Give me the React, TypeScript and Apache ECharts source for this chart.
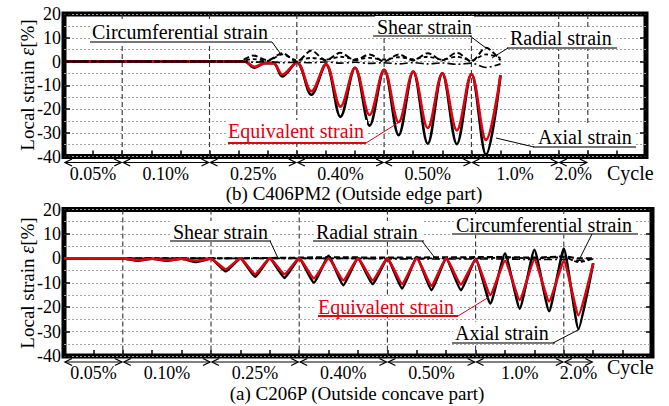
import React, { useEffect, useRef } from 'react';
import * as echarts from 'echarts';

const FONT = '"Liberation Serif", "Times New Roman", serif';
const RED = '#e3000f';

// Loading protocol (cycle regions)
const regionStarts = [0, 2, 5, 8, 11, 14, 17];
const regionEnds = [2, 5, 8, 11, 14, 17, 18];
const regionLabels = ['0.05%', '0.10%', '0.25%', '0.40%', '0.50%', '1.0%', '2.0%'];
const topDividers = [2, 5, 8, 11, 14, 17, 18];
const bottomDividers = [2, 5, 8, 11, 14, 17];

// (b) C406PM2 – axial / equivalent
const topX = [0, 6.2, 6.55, 6.9, 7.2, 7.5, 8, 8.5, 9, 9.5, 10, 10.5, 11, 11.5, 12, 12.5, 13, 13.5, 14, 14.5, 15];
const topAxial = [0, 0, -2.6, -0.7, -0.7, -6.3, -0.4, -14, -1.2, -23.3, -2.6, -27, -3.5, -31, -4.2, -34.6, -5, -34.8, -5.3, -39.2, -5.8];
const topEquivalent = [0, 0, -2.2, -0.7, -0.7, -5.5, -0.4, -12.5, -1.2, -19, -2.6, -22.5, -3.5, -25.5, -4.2, -28, -5, -29, -5.3, -33, -5.8];

// (b) C406PM2 – other components
const topX2 = [0, 6, 6.5, 7, 7.5, 8, 8.5, 9, 9.5, 10, 10.5, 11, 11.5, 12, 12.5, 13, 13.5, 14, 14.5, 15];
const topShear = [0, 0, 2.5, 0.5, 3.5, 0, 4.6, 0.5, 3.7, 0.5, 3, 0, 3, 0.5, 3.5, 0.5, 3.7, 0, 5.8, 0.5];
const topRadial = [0, 0, -0.3, 0, -0.5, -0.3, -0.5, -0.2, -0.7, -0.3, -0.8, -0.5, -1, -0.5, -1, -0.6, -1.2, -0.7, -2.5, -1];
const topCircumferential = [0, 0, 1, 0.3, 3, 0.5, 1.5, 0.8, 2, 1, 1.5, 0.8, 1.8, 1, 2, 0.8, 2, 0.5, 3, 1.5];

// (a) C206P – axial / equivalent
const bottomX = [0, 2, 2.5, 3, 3.5, 4, 4.5, 5, 5.5, 6, 6.5, 7, 7.5, 8, 8.5, 9, 9.5, 10, 10.5, 11, 11.5, 12, 12.5, 13, 13.5, 14, 14.5, 15, 15.5, 16, 16.5, 17, 17.5, 18];
const bottomAxial = [0, 0, -1, -0.2, -1, -0.2, -1.5, -0.2, -5.3, 0, -7.5, 0, -8, 0, -10, 1, -11, 0, -10.5, 0, -12.3, 0.5, -13, 0, -13, -0.3, -18.5, 2, -20.6, 3.5, -21.7, 4, -29, -2];
const bottomEquivalent = [0, 0, -0.7, -0.2, -0.7, -0.2, -1, -0.2, -4.5, 0, -6.5, 0, -6.5, 0, -8.2, 0, -9, 0, -9, 0, -10.5, 0, -11.2, 0, -10.7, -0.5, -15, -1, -17.1, -0.5, -17.6, -1, -23.3, -2];

// (a) C206P – other components
const bottomX2 = [0, 2, 5, 8, 9, 11, 14, 15, 16, 17, 17.5, 18];
const bottomShear = [0, 0, 0, 0.3, 0.5, 0.3, 0.5, 0.5, 0.3, 0.8, 0, 0];
const bottomRadial = [0, 0, 0, 0, 0, -0.2, -0.3, -0.3, -0.5, -0.5, -0.8, -0.3];
const bottomCircumferential = [0, 0, 0, 0, 0, 0, 0, 0.3, 0, 0.5, -1.6, -0.2];

const pairs = (xs: number[], ys: number[]) => xs.map((x, i) => [x, ys[i]]);

function lineSeries(idx: number, xs: number[], ys: number[], color: string, width: number, type: any, smooth: number | boolean) {
  return {
    type: 'line',
    xAxisIndex: idx,
    yAxisIndex: idx,
    data: pairs(xs, ys),
    showSymbol: false,
    smooth,
    silent: true,
    lineStyle: { color, width, type },
  };
}

function dividerSeries(idx: number, xs: number[]) {
  return {
    type: 'custom',
    xAxisIndex: idx,
    yAxisIndex: idx,
    silent: true,
    z: 1,
    data: xs.map((v) => [v, 0]),
    renderItem: (_p: any, api: any) => {
      const a = api.coord([api.value(0), 20]);
      const b = api.coord([api.value(0), -40]);
      return {
        type: 'line',
        shape: { x1: a[0], y1: a[1], x2: b[0], y2: b[1] },
        style: { stroke: '#333', lineWidth: 1.1, lineDash: [5, 3] },
      };
    },
  };
}

function regionSeries(idx: number) {
  return {
    type: 'custom',
    xAxisIndex: idx,
    yAxisIndex: idx,
    silent: true,
    clip: false,
    z: 5,
    data: regionStarts.map((s, k) => [s, regionEnds[k], k]),
    renderItem: (_p: any, api: any) => {
      const k = api.value(2);
      const a = api.coord([api.value(0), -40]);
      const b = api.coord([api.value(1), -40]);
      const y = a[1] + 6;
      const x1 = a[0] + 1;
      const x2 = b[0] - 1;
      const hs = { stroke: '#000', fill: 'none', lineWidth: 1.3 };
      return {
        type: 'group',
        children: [
          { type: 'line', shape: { x1, y1: y, x2, y2: y }, style: { stroke: '#000', lineWidth: 1 } },
          { type: 'polyline', shape: { points: [[x1 + 7, y - 3.5], [x1, y], [x1 + 7, y + 3.5]] }, style: hs },
          { type: 'polyline', shape: { points: [[x2 - 7, y - 3.5], [x2, y], [x2 - 7, y + 3.5]] }, style: hs },
          {
            type: 'text',
            x: (a[0] + b[0]) / 2,
            y: y + 11,
            style: { text: regionLabels[k], fill: '#000', font: `18px ${FONT}`, textAlign: 'center', textVerticalAlign: 'middle' },
          },
        ],
      };
    },
  };
}

function annotation(text: string, left: number, cy: number, w: number, color: string, ul: [number, number, number], leader: [number, number, number, number]) {
  const ulColor = color === '#000' ? '#777' : color;
  return [
    { type: 'rect', z: 100, shape: { x: left - 2, y: cy - 11, width: w + 4, height: 21 }, style: { fill: '#fff' } },
    {
      type: 'text', z: 101, x: left, y: cy,
      style: { text, fill: color, font: `20px ${FONT}`, textVerticalAlign: 'middle' },
    },
    { type: 'line', z: 101, shape: { x1: ul[0], y1: ul[2], x2: ul[1], y2: ul[2] }, style: { stroke: ulColor, lineWidth: 2.2 } },
    { type: 'line', z: 101, shape: { x1: leader[0], y1: leader[1], x2: leader[2], y2: leader[3] }, style: { stroke: color, lineWidth: 1 } },
  ];
}

function yLeft(idx: number) {
  return {
    type: 'value', gridIndex: idx, min: -40, max: 20, interval: 10,
    axisLine: { show: false, onZero: false },
    axisTick: { show: true, inside: true, length: 6, lineStyle: { color: '#000', width: 1.5 } },
    axisLabel: { color: '#000', fontSize: 18, fontFamily: FONT, margin: 3 },
    splitLine: { show: true, lineStyle: { color: '#a0a0a0', width: 1, type: [2, 2] } },
    minorTick: { show: false, splitNumber: 2 },
    minorSplitLine: { show: true, lineStyle: { color: '#a0a0a0', width: 1, type: [2, 2] } },
  };
}

function yRight(idx: number) {
  return {
    type: 'value', gridIndex: idx, position: 'right', min: -40, max: 20, interval: 10,
    axisLine: { show: false, onZero: false },
    axisTick: { show: true, inside: true, length: 6, lineStyle: { color: '#000', width: 1.5 } },
    axisLabel: { show: false },
    splitLine: { show: false },
  };
}

function xAx(idx: number) {
  return {
    type: 'value', gridIndex: idx, min: 0, max: 20, interval: 1,
    axisLine: { show: false, onZero: false },
    axisTick: { show: true, inside: true, length: 6, lineStyle: { color: '#000', width: 1.5 } },
    axisLabel: { show: false },
    splitLine: { show: false },
  };
}

const yName = (cy: number) => ({
  type: 'text', x: 27, y: cy, rotation: Math.PI / 2,
  style: {
    text: 'Local strain {i|ε}[%]',
    fill: '#000', font: `19px ${FONT}`, textAlign: 'center', textVerticalAlign: 'middle',
    rich: { i: { fontStyle: 'italic', fontSize: 20, fontFamily: FONT, fill: '#000' } },
  },
});

export default function App() {
  const ref = useRef<HTMLDivElement>(null);
  useEffect(() => {
    const chart = echarts.init(ref.current!, null, { renderer: 'svg' });
    const option: any = {
      animation: false,
      backgroundColor: '#fff',
      grid: [
        { left: 64, top: 14, width: 582, height: 142.5, show: true, borderColor: '#000', borderWidth: 5, backgroundColor: 'transparent' },
        { left: 64, top: 209.5, width: 588, height: 146.5, show: true, borderColor: '#000', borderWidth: 5, backgroundColor: 'transparent' },
      ],
      xAxis: [xAx(0), xAx(1)],
      yAxis: [yLeft(0), yLeft(1), yRight(0), yRight(1)],
      series: [
        dividerSeries(0, topDividers),
        lineSeries(0, topX, topAxial, '#000', 2.6, 'solid', 0.35),
        lineSeries(0, topX, topEquivalent, RED, 2.6, 'solid', 0.35),
        lineSeries(0, topX2, topShear, '#000', 2, [6, 3], 0.3),
        lineSeries(0, topX2, topRadial, '#000', 1.6, [8, 3, 2, 3], 0.3),
        lineSeries(0, topX2, topCircumferential, '#000', 1.8, [4, 3], 0.3),
        regionSeries(0),
        dividerSeries(1, bottomDividers),
        lineSeries(1, bottomX2, bottomShear, '#000', 2, [6, 3], 0.2),
        lineSeries(1, bottomX2, bottomRadial, '#000', 1.6, [8, 3, 2, 3], 0.2),
        lineSeries(1, bottomX2, bottomCircumferential, '#000', 1.8, [4, 3], 0.2),
        lineSeries(1, bottomX, bottomAxial, '#000', 2.6, 'solid', 0.15),
        lineSeries(1, bottomX, bottomEquivalent, RED, 2.6, 'solid', 0.15),
        regionSeries(1),
      ],
      graphic: [
        yName(85),
        yName(283),
        ...annotation('Circumferential strain', 92, 32, 178, '#000', [90, 272, 42], [272, 42, 280, 53]),
        ...annotation('Shear strain', 377, 27, 95, '#000', [373, 472, 36], [470, 36, 486, 48]),
        ...annotation('Radial strain', 510, 38, 105, '#000', [507, 617, 48], [508, 48, 492, 58]),
        ...annotation('Equivalent strain', 228, 131, 137, RED, [228, 366, 143], [366, 143, 401, 121]),
        ...annotation('Axial strain', 538, 137, 95, '#000', [533, 636, 147], [534, 147, 496, 138]),
        ...annotation('Shear strain', 173, 232, 95, '#000', [170, 271, 241], [270, 241, 278, 258]),
        ...annotation('Radial strain', 316, 232, 105, '#000', [313, 424, 241], [422, 241, 435, 258]),
        ...annotation('Circumferential strain', 456, 225, 178, '#000', [452, 638, 234], [592, 234, 578, 262]),
        ...annotation('Equivalent strain', 318, 307, 137, RED, [318, 458, 316], [458, 316, 489, 297]),
        ...annotation('Axial strain', 455, 333, 95, '#000', [452, 555, 343], [553, 343, 578, 330]),
        { type: 'text', x: 607, y: 173, style: { text: 'Cycle', fill: '#000', font: `20px ${FONT}`, textVerticalAlign: 'middle' } },
        { type: 'text', x: 607, y: 367, style: { text: 'Cycle', fill: '#000', font: `20px ${FONT}`, textVerticalAlign: 'middle' } },
        { type: 'text', x: 354, y: 193, style: { text: '(b) C406PM2 (Outside edge part)', fill: '#000', font: `19px ${FONT}`, textAlign: 'center', textVerticalAlign: 'middle' } },
        { type: 'text', x: 357, y: 393, style: { text: '(a) C206P (Outside concave part)', fill: '#000', font: `19px ${FONT}`, textAlign: 'center', textVerticalAlign: 'middle' } },
      ],
    };
    chart.setOption(option);
    return () => chart.dispose();
  }, []);
  return <div ref={ref} style={{ position: 'fixed', left: 0, top: 0, width: 669, height: 406, background: '#fff' }} />;
}
